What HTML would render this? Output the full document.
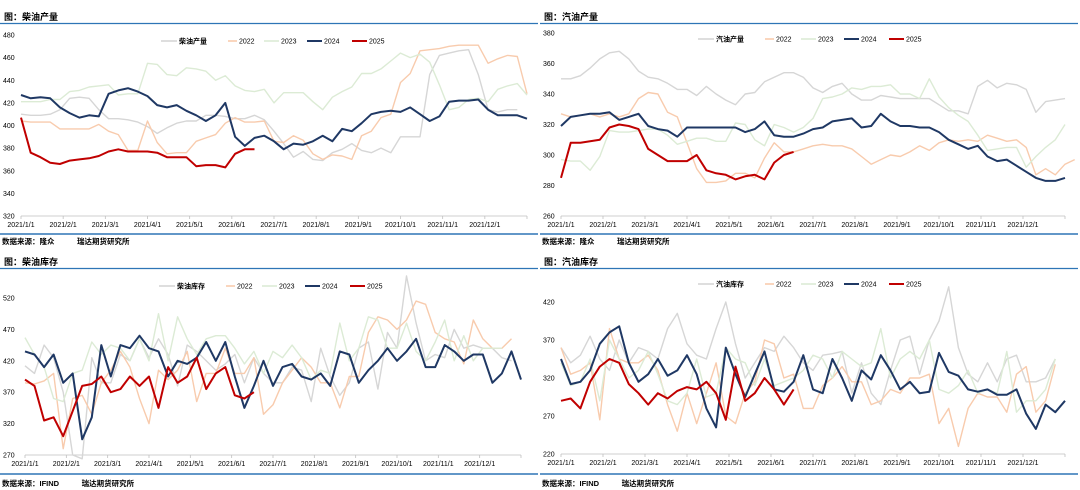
<!DOCTYPE html>
<html><head><meta charset="utf-8">
<style>
html,body{margin:0;padding:0;background:#fff;}
svg{display:block;font-family:"Liberation Sans","Noto Sans CJK SC",sans-serif;}
</style></head>
<body>
<svg id="c" width="1080" height="490" viewBox="0 0 1080 490" xmlns="http://www.w3.org/2000/svg"></svg>
<script>
// Panel 1: diesel output
const p1Gray=[410,409,409,410,414,424,425,424,414,406,406,405,403,399,393,398,402,404,404,409,409,408,406,406,409,405,395,384,372,377,370,369,376,379,384,378,376,380,376,390,390,390,445,462,464,466,467,445,414,412,414,414];
const p1Y2022=[404,403,403,403,397,397,397,397,401,395,392,378,378,404,385,375,376,376,386,389,392,402,407,403,403,404,386,385,391,387,375,370,374,373,370,391,395,407,410,438,446,466,467,468,470,471,471,471,455,459,462,461,428];
const p1Y2023=[421,421,421,423,423,430,431,434,435,436,427,428,428,455,454,445,444,451,450,448,440,444,435,431,430,432,420,429,429,429,421,414,425,430,434,446,446,450,457,464,460,463,456,436,414,416,423,424,421,432,435,437,427];
const p1Y2024=[427,424,425,424,416,411,407,409,408,428,431,433,430,426,418,416,418,413,409,404,409,420,390,382,389,391,386,379,384,383,386,391,386,397,395,402,410,412,413,412,416,410,404,408,421,422,422,423,414,409,409,409,406];
const p1Y2025=[407,376,372,367,366,369,370,371,373,377,379,377,377,377,376,372,372,372,364,365,365,363,375,379,379];
const p1Ticks=[320,340,360,380,400,420,440,460,480];
// Panel 2: gasoline output
const p2Gray=[350,350,352,357,363,367,368,363,355,351,350,347,343,343,339,345,340,336,333,340,341,348,351,354,354,351,344,341,345,347,340,336,336,339,338,337,337,337,337,333,329,329,327,345,349,344,347,346,343,328,335,336,337];
const p2Y2022=[327,325,326,327,325,327,325,327,337,341,340,328,325,308,291,282,282,283,288,288,285,298,308,302,302,304,306,307,306,306,304,299,294,297,300,299,302,306,303,308,310,309,310,309,313,311,309,310,305,287,291,287,294,297];
const p2Y2023=[297,296,296,290,299,316,315,315,316,317,317,313,307,309,311,311,309,309,321,320,310,306,320,318,315,318,324,337,338,340,344,343,345,345,346,340,340,337,350,338,331,326,322,313,303,304,305,305,292,299,305,310,320];
const p2Y2024=[319,325,326,327,327,328,323,325,327,319,317,316,312,318,318,318,318,318,318,315,317,322,313,312,312,314,317,318,322,323,324,318,319,327,322,319,319,318,318,315,310,307,304,306,299,296,297,293,289,285,283,283,285];
const p2Y2025=[285,308,308,309,310,318,320,319,317,304,300,296,296,296,300,290,288,287,284,286,287,284,295,300,302];
const p2Ticks=[260,280,300,320,340,360,380];
// Panel 3: diesel stocks
const p3Gray=[412,400,445,425,370,270,255,425,385,385,430,420,455,425,455,430,380,445,435,420,405,415,430,385,425,400,385,385,410,405,355,440,395,365,385,440,450,375,465,440,555,480,420,430,425,470,440,445,440,440,425,420];
const p3Y2022=[385,383,388,400,280,360,365,335,385,405,435,410,360,320,405,390,405,435,355,400,400,440,400,400,425,335,350,385,405,425,410,385,385,345,395,395,465,490,485,470,485,515,510,465,455,450,415,485,455,440,440,455];
const p3Y2023=[457,430,410,360,355,400,405,450,430,445,440,420,455,420,495,420,490,455,430,455,460,460,440,415,435,400,435,425,445,425,390,405,400,480,420,440,490,485,440,440,480,435,420,450,485,420,460,420,440,440,440];
const p3Y2024=[435,430,410,430,385,400,295,330,445,395,445,440,460,440,435,395,420,415,425,450,420,450,395,345,380,420,380,410,415,395,390,400,380,435,430,385,405,420,440,420,435,455,410,410,445,435,420,430,430,385,400,435,390];
const p3Y2025=[390,380,325,330,300,340,380,383,395,370,375,395,380,395,345,410,385,395,425,375,400,410,365,360,370];
const p3Ticks=[270,320,370,420,470,520];
// Panel 4: gasoline stocks
const p4Gray=[360,340,350,375,345,330,370,340,360,355,345,385,405,365,350,345,385,420,365,320,340,360,355,375,360,340,330,350,352,355,300,340,300,285,330,370,375,325,370,395,440,360,325,315,340,315,345,350,315,315,320,345];
const p4Y2022=[360,325,330,340,265,385,345,340,340,350,330,285,250,300,260,300,340,270,260,300,315,370,365,320,325,280,280,310,320,335,315,315,285,290,305,300,320,320,325,260,280,230,280,300,295,295,275,325,335,275,290,338];
const p4Y2023=[340,310,315,345,290,370,345,320,330,355,325,290,285,300,345,295,300,360,345,340,310,345,310,315,320,330,350,345,320,355,345,335,340,385,320,345,355,345,370,305,300,310,330,300,305,300,355,275,290,290,305,345];
const p4Y2024=[345,312,315,330,365,380,388,340,315,325,345,323,330,350,325,280,255,360,325,295,325,355,305,302,315,350,305,300,345,320,290,330,318,350,330,305,315,300,302,353,328,323,305,302,305,298,298,305,273,253,285,275,290];
const p4Y2025=[290,293,280,315,335,345,340,312,300,285,300,293,303,308,305,315,300,265,335,290,300,320,305,285,305];
const p4Ticks=[220,270,320,370,420];
const monthLabels=["2021/1/1","2021/2/1","2021/3/1","2021/4/1","2021/5/1","2021/6/1","2021/7/1","2021/8/1","2021/9/1","2021/10/1","2021/11/1","2021/12/1"];
const seriesColors=["#d6d6d6","#f8cbad","#dcebd5","#1f3864","#c00000"];
const seriesWidths=[1.4,1.4,1.4,2,2];

const NS="http://www.w3.org/2000/svg";
const svg=document.getElementById('c');
function mk(tag,attrs,parent,text){const e=document.createElementNS(NS,tag);for(const k in attrs)e.setAttribute(k,attrs[k]);if(text!==undefined)e.textContent=text;(parent||svg).appendChild(e);return e;}

const panels=[
 {key:'diesel-output',ox:0,oy:0,foot:234,srcY:244,title:'图：柴油产量',lname:'柴油产量',src:'数据来源：隆众　　　瑞达期货研究所',x0:21,x1:527,yTop:35,yBot:216,min:320,max:480,ticks:p1Ticks,data:[p1Gray,p1Y2022,p1Y2023,p1Y2024,p1Y2025],legY:41,legX:161},
 {key:'gasoline-output',ox:540,oy:0,foot:234,srcY:244,title:'图：汽油产量',lname:'汽油产量',src:'数据来源：隆众　　　瑞达期货研究所',x0:561,x1:1065,yTop:33,yBot:216,min:260,max:380,ticks:p2Ticks,data:[p2Gray,p2Y2022,p2Y2023,p2Y2024,p2Y2025],legY:39,legX:698},
 {key:'diesel-stock',ox:0,oy:245,foot:474,srcY:486,title:'图：柴油库存',lname:'柴油库存',src:'数据来源：IFIND　　　瑞达期货研究所',x0:25,x1:521,yTop:298,yBot:455,min:270,max:520,ticks:p3Ticks,data:[p3Gray,p3Y2022,p3Y2023,p3Y2024,p3Y2025],legY:286,legX:159},
 {key:'gasoline-stock',ox:540,oy:245,foot:474,srcY:486,title:'图：汽油库存',lname:'汽油库存',src:'数据来源：IFIND　　　瑞达期货研究所',x0:561,x1:1065,yTop:302,yBot:454,min:220,max:420,ticks:p4Ticks,data:[p4Gray,p4Y2022,p4Y2023,p4Y2024,p4Y2025],legY:284,legX:698}
];

panels.forEach(p=>{
  const g=mk('g',{},svg);
  
  
  const t=mk('text',{x:p.ox+4,y:p.oy+20,'font-size':9,'font-weight':'bold',fill:'#000'},g,p.title);
  
  
  const hl=mk('line',{x1:p.ox,x2:p.ox+538,y1:p.oy+23.5,y2:p.oy+23.5,stroke:'#2e75b6','stroke-width':1.3},g);
  
  
  const bl=mk('line',{x1:p.ox,x2:p.ox+538,y1:p.foot,y2:p.foot,stroke:'#2e75b6','stroke-width':1.6},g);
  
  
  const s=mk('text',{x:p.ox+2,y:p.srcY,'font-size':7.5,'font-weight':'bold',fill:'#000'},g,p.src);
  
  
  const yS=v=>p.yBot-(v-p.min)/(p.max-p.min)*(p.yBot-p.yTop);
  const xS=i=>p.x0+i*(p.x1-p.x0)/52;
  const mX=m=>p.x0+m*(p.x1-p.x0)/12;
  p.ticks.forEach(v=>{
    const tl=mk('text',{x:p.ox+3,y:yS(v)+2.5,'font-size':7,fill:'#000'},g,String(v));
    
    
  });
  const ax=mk('line',{x1:p.x0,x2:p.x1,y1:p.yBot,y2:p.yBot,stroke:'#bfbfbf','stroke-width':0.8},g);
  
  
  for(let m=0;m<=12;m++){
    const tk=mk('line',{x1:mX(m),x2:mX(m),y1:p.yBot,y2:p.yBot+3,stroke:'#bfbfbf','stroke-width':0.8},g);
    
    
  }
  monthLabels.forEach((lab,m)=>{
    const xl=mk('text',{x:mX(m),y:p.yBot+11,'font-size':7,'text-anchor':'middle',fill:'#000'},g,lab);
    
    
  });
  const names=[p.lname,'2022','2023','2024','2025'];
  p.data.forEach((arr,si)=>{
    const pts=arr.map((v,i)=>xS(i).toFixed(1)+','+yS(Math.min(Math.max(v,p.min-6),p.max+40)).toFixed(1)).join(' ');
    const pl=mk('polyline',{points:pts,fill:'none',stroke:seriesColors[si],'stroke-width':seriesWidths[si],'stroke-linejoin':'round'},g);
    
    
  });
  const offs=[0,67,103,146,191];
  names.forEach((n,si)=>{
    const lx=p.legX+offs[si];
    const lw=si===0?16:(si===1?9:15);
    const ll=mk('line',{x1:lx,x2:lx+lw,y1:p.legY,y2:p.legY,stroke:seriesColors[si],'stroke-width':si>=3?2:1.6},g);
    
    
    const lt=mk('text',{x:lx+lw+2,y:p.legY+2.5,'font-size':7,'font-weight':si===0?'bold':'normal',fill:'#000'},g,n);
    
    
  });
});
</script>
</body></html>
